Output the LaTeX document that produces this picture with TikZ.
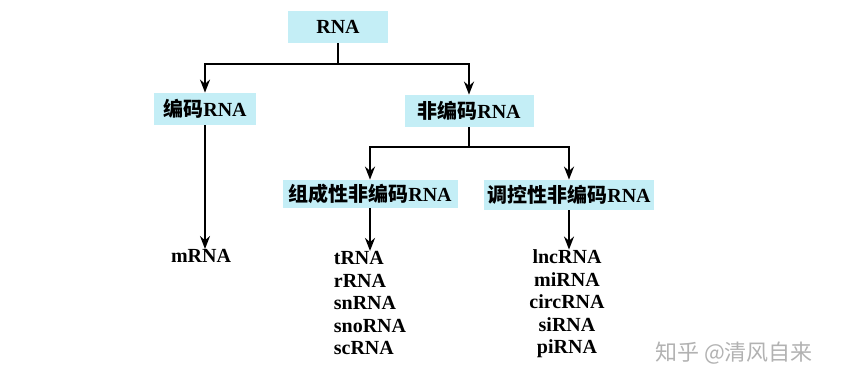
\documentclass[tikz,border=0pt]{standalone}
\usepackage{fontspec}
\setmainfont{Liberation Serif}
\newfontfamily\cjk{Noto Sans CJK SC}
\usetikzlibrary{arrows.meta}
\definecolor{boxcyan}{RGB}{196,238,246}
\newcommand{\zh}[1]{{\cjk #1}}
\tikzset{
    rnabox/.style = {fill=boxcyan, inner sep=0pt, font=\bfseries\fontsize{10}{12}\selectfont},
    rnalist/.style = {inner sep=0pt, font=\bfseries\fontsize{10}{11.25}\selectfont},
    link/.style = {line width=1pt, -{Stealth[length=6.5pt,width=5pt]}}
}
\begin{document}
\begin{tikzpicture}[x=0.5pt,y=-0.5pt]
        \useasboundingbox (0,0) rectangle (846,388);
        % boxes
        \node[rnabox, minimum width=50pt, minimum height=16pt] (rna) at (338,27) {RNA};
        \node[rnabox, minimum width=51pt, minimum height=16pt] (coding) at (205,109) {\zh{编码}RNA};
        \node[rnabox, minimum width=64.5pt, minimum height=16pt] (noncoding) at (469,111) {\zh{非编码}RNA};
        \node[rnabox, minimum width=87.5pt, minimum height=14pt] (structural) at (370,194) {\zh{组成性非编码}RNA};
        \node[rnabox, minimum width=85pt, minimum height=15pt] (regulatory) at (569,195) {\zh{调控性非编码}RNA};
        % leaves
        \node[rnalist] (mrna) at (201,256) {mRNA};
        \node[rnalist, align=left] (slist) at (370,303) {tRNA\\rRNA\\snRNA\\snoRNA\\scRNA};
        \node[rnalist, align=center] (rlist) at (567,304) {lncRNA\\miRNA\\circRNA\\siRNA\\piRNA};
        % branch points
        \coordinate (top split) at (338,64);
        \coordinate (low split) at (469,147);

        \draw[line width=1pt] (rna.south) -- (top split);
        \draw[link] (top split) -| (coding.north);
        \draw[link] (top split) -| (noncoding.north);
        \draw[link] (coding.south) -- (coding.south |- mrna.north);
        \draw[line width=1pt] (noncoding.south) -- (low split);
        \draw[link] (low split) -| (structural.north);
        \draw[link] (low split) -| (regulatory.north);
        \draw[link] (structural.south) -- (slist.north);
        \draw[link] (regulatory.south) -- (regulatory.south |- rlist.north);

        \node[text=black!30, font=\cjk\fontsize{11}{13}\selectfont] (mark) at (734,353) {知乎 @清风自来};
    \end{tikzpicture}
\end{document}
